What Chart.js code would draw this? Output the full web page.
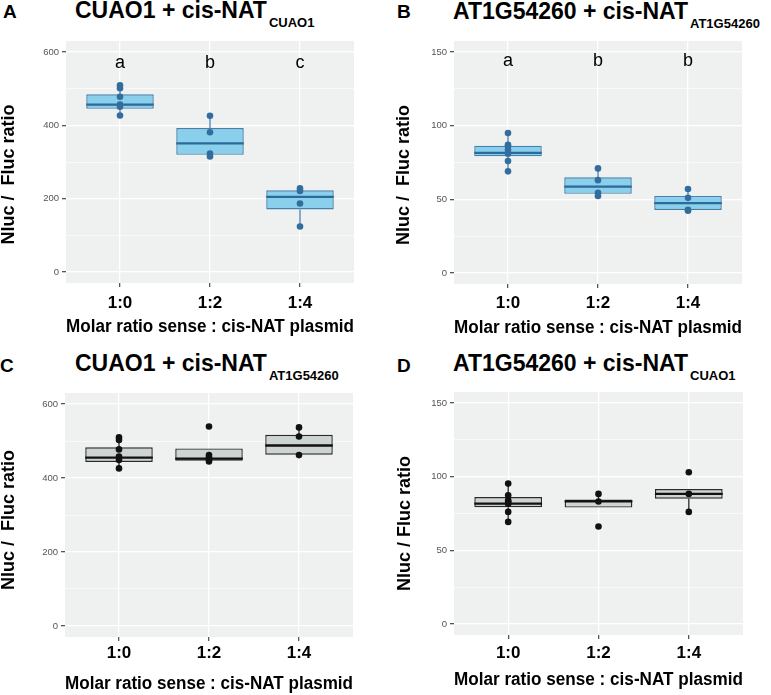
<!DOCTYPE html>
<html>
<head>
<meta charset="utf-8">
<script src="https://cdn.jsdelivr.net/npm/chart.js@4.4.1/dist/chart.umd.min.js"></script>
<style>
  body { margin: 0; background: #fff; width: 771px; height: 695px; position: relative; overflow: hidden;
         font-family: "Liberation Sans", Arial, sans-serif; }
  .wrap { position: absolute; }
  .tag { position: absolute; font-weight: bold; font-size: 19px; line-height: 1; }
  .ttl { position: absolute; font-weight: bold; font-size: 23px; line-height: 1; white-space: nowrap; }
  .ttl span { font-size: 13px; position: relative; top: 9px; margin-left: 2px; }
</style>
</head>
<body>

<div class="tag" style="left:3px;top:2px">A</div>
<div class="ttl" style="left:75px;top:-1px">CUAO1 + cis-NAT<span>CUAO1</span></div>
<div class="tag" style="left:397px;top:2px">B</div>
<div class="ttl" style="left:453px;top:0px">AT1G54260 + cis-NAT<span>AT1G54260</span></div>
<div class="tag" style="left:0px;top:356px">C</div>
<div class="ttl" style="left:75px;top:352px">CUAO1 + cis-NAT<span>AT1G54260</span></div>
<div class="tag" style="left:397px;top:356px">D</div>
<div class="ttl" style="left:453px;top:352px">AT1G54260 + cis-NAT<span>CUAO1</span></div>

<div class="wrap" style="left:0;top:0"><canvas id="cA" width="385" height="345"></canvas></div>
<div class="wrap" style="left:385px;top:0"><canvas id="cB" width="386" height="345"></canvas></div>
<div class="wrap" style="left:0;top:340px"><canvas id="cC" width="385" height="355"></canvas></div>
<div class="wrap" style="left:385px;top:340px"><canvas id="cD" width="386" height="355"></canvas></div>

<script>
Chart.defaults.font.family = '"Liberation Sans", Arial, sans-serif'
Chart.defaults.animation = false

// categories and tick labels
const cats = ['1:0', '1:2', '1:4']
const ticksBig = [0, 100, 200, 300, 400, 500, 600]
const majorBig = [0, 200, 400, 600]
const ticksSmall = [0, 25, 50, 75, 100, 125, 150]
const majorSmall = [0, 50, 100, 150]

// A: CUAO1 + cis-NAT CUAO1
const ptsA = [[509, 501, 478, 457, 451, 427], [426, 381, 323, 315], [228, 221, 187, 124]]
const q1A = [445, 319.5, 170.5]
const medA = [456.5, 351, 205]
const q3A = [484.7, 392.6, 222.8]
const loA = [427, 315, 124]
const hiA = [509, 426, 228]
const letA = ['a', 'b', 'c']

// B: AT1G54260 + cis-NAT AT1G54260
const ptsB = [[95, 87, 86, 83.5, 81, 76, 69], [71, 63, 54.4, 52.3], [57, 51, 42.8, 42.2]]
const q1B = [79.2, 53.7, 42.8]
const medB = [81.6, 58.6, 47.4]
const q3B = [86.4, 65, 52.3]
const loB = [69, 52.3, 42.2]
const hiB = [95, 71, 57]
const letB = ['a', 'b', 'b']

// C: CUAO1 + cis-NAT AT1G54260
const ptsC = [[510, 503, 477.5, 458, 449, 426], [539.5, 462, 456, 449.7, 445], [537, 512.5, 462]]
const q1C = [443.5, 447, 463]
const medC = [455, 452.4, 488]
const q3C = [483, 480, 517]
const loC = [426, 445, 462]
const hiC = [510, 480, 537]

// D: AT1G54260 + cis-NAT CUAO1
const ptsD = [[95.3, 87.4, 84, 82.8, 81.7, 76.1, 69.3], [88.3, 83.1, 66.2], [103, 88.3, 76.1]]
const q1D = [79.3, 79, 85.1]
const medD = [81.7, 83.3, 88.3]
const q3D = [86.2, 84.5, 91.6]
const loD = [69.3, 79, 76.1]
const hiD = [95.3, 88.3, 91.6]

const blue = { fill: '#8acfec', edge: '#4581ae', med: '#2c6a9a', dot: '#336d9e' }
const grey = { fill: '#cdd4d2', edge: '#2a2a2a', med: '#111111', dot: '#111111' }

// grey panel behind the grid
const panelBg = {
    id: 'panelBg',
    beforeDraw(chart) {
        const { ctx, chartArea: a } = chart
        ctx.save()
        ctx.fillStyle = '#eff0f0'
        ctx.fillRect(a.left, a.top, a.width, a.height)
        ctx.restore()
    }
}

// significance letters
const letters = {
    id: 'letters',
    afterDatasetsDraw(chart, args, opts) {
        if (!opts.labels) return
        const { ctx, scales: { x, y } } = chart
        ctx.save()
        ctx.font = '18px "Liberation Sans", Arial, sans-serif'
        ctx.fillStyle = '#000'
        ctx.textAlign = 'center'
        ctx.textBaseline = 'alphabetic'
        opts.labels.forEach((t, i) => ctx.fillText(t, x.getPixelForValue(i), y.getPixelForValue(opts.at)))
        ctx.restore()
    }
}

function boxChart(id, p) {
    const whisk = [], meds = [], dots = []
    cats.forEach((c, i) => {
        whisk.push({ x: i, y: p.lo[i] }, { x: i, y: p.q1[i] }, { x: i, y: null },
                   { x: i, y: p.q3[i] }, { x: i, y: p.hi[i] }, { x: i, y: null })
        meds.push({ x: i - 0.375, y: p.med[i] }, { x: i + 0.375, y: p.med[i] }, { x: i, y: null })
        p.pts[i].forEach(v => dots.push({ x: i, y: v }))
    })
    const isMajor = v => p.major.includes(v)

    return new Chart(document.getElementById(id), {
        type: 'bar',
        data: {
            datasets: [
                { type: 'scatter', data: dots, pointRadius: 3.3, pointBackgroundColor: p.col.dot, pointBorderWidth: 0 },
                { type: 'line', data: meds, borderColor: p.col.med, borderWidth: 2.3, pointRadius: 0, spanGaps: false },
                { type: 'bar', data: cats.map((c, i) => ({ x: i, y: [p.q1[i], p.q3[i]] })),
                  backgroundColor: p.col.fill, borderColor: p.col.edge, borderWidth: 1.4, borderSkipped: false,
                  categoryPercentage: 1, barPercentage: 0.75 },
                { type: 'line', data: whisk, borderColor: p.col.edge, borderWidth: 1.3, pointRadius: 0, spanGaps: false }
            ]
        },
        options: {
            responsive: false,
            layout: { padding: { top: p.padTop, right: p.padRight, left: 0, bottom: 0 } },
            plugins: { legend: { display: false }, tooltip: { enabled: false }, letters: { labels: p.letters, at: p.letAt } },
            scales: {
                x: {
                    type: 'linear', min: -0.6, max: 2.6, offset: false,
                    afterBuildTicks: s => { s.ticks = cats.map((c, i) => ({ value: i })) },
                    afterFit: s => { s.height = p.xh },
                    ticks: { callback: v => cats[v], color: '#000', padding: p.xtickPad, maxRotation: 0, autoSkip: false,
                             font: { size: 17, weight: 'bold' } },
                    grid: { offset: false, color: '#fff', lineWidth: 1.3, tickColor: '#555', tickLength: 4 },
                    border: { display: false },
                    title: { display: true, text: 'Molar ratio sense : cis-NAT plasmid', color: '#000',
                             font: { size: 18, weight: 'bold' }, padding: { top: 0, bottom: p.xtitlePad } }
                },
                y: {
                    min: p.ymin, max: p.ymax,
                    afterBuildTicks: s => { s.ticks = p.ticks.map(v => ({ value: v })) },
                    afterFit: s => { s.width = p.yw },
                    ticks: { callback: v => isMajor(v) ? String(v) : '', color: '#555', padding: 3, font: { size: 9.5 } },
                    grid: {
                        color: '#fff',
                        lineWidth: c => c.tick && isMajor(c.tick.value) ? 1.3 : 0.6,
                        tickColor: c => c.tick && isMajor(c.tick.value) ? '#555' : 'rgba(0,0,0,0)',
                        tickLength: 4
                    },
                    border: { display: false },
                    title: { display: true, text: p.ytitle, color: '#000',
                             font: { size: 18, weight: 'bold', lineHeight: 1 }, padding: { top: p.ytitlePad, bottom: 0 } }
                }
            }
        },
        plugins: [panelBg, letters]
    })
}

// trailing spaces push the rotated y title down a little, as in the original
boxChart('cA', { pts: ptsA, q1: q1A, med: medA, q3: q3A, lo: loA, hi: hiA, col: blue, letters: letA, letAt: 557,
    ymin: -30, ymax: 630, ticks: ticksBig, major: majorBig, ytitle: 'Nluc /  Fluc ratio     ',
    padTop: 41, padRight: 31, yw: 66, xh: 62, xtickPad: 6, xtitlePad: 7, ytitlePad: 0 })

boxChart('cB', { pts: ptsB, q1: q1B, med: medB, q3: q3B, lo: loB, hi: hiB, col: blue, letters: letB, letAt: 140.7,
    ymin: -7.5, ymax: 157.5, ticks: ticksSmall, major: majorSmall, ytitle: 'Nluc /  Fluc ratio     ',
    padTop: 41, padRight: 29, yw: 69, xh: 61, xtickPad: 5, xtitlePad: 6, ytitlePad: 10 })

boxChart('cC', { pts: ptsC, q1: q1C, med: medC, q3: q3C, lo: loC, hi: hiC, col: grey, letters: null, letAt: 0,
    ymin: -30, ymax: 630, ticks: ticksBig, major: majorBig, ytitle: 'Nluc /  Fluc ratio  ',
    padTop: 53, padRight: 32, yw: 65, xh: 58, xtickPad: 2, xtitlePad: 0, ytitlePad: 0 })

boxChart('cD', { pts: ptsD, q1: q1D, med: medD, q3: q3D, lo: loD, hi: hiD, col: grey, letters: null, letAt: 0,
    ymin: -7.5, ymax: 157.5, ticks: ticksSmall, major: majorSmall, ytitle: 'Nluc / Fluc ratio    ',
    padTop: 52, padRight: 28, yw: 69, xh: 60, xtickPad: 4, xtitlePad: 4, ytitlePad: 11 })
</script>
</body>
</html>
